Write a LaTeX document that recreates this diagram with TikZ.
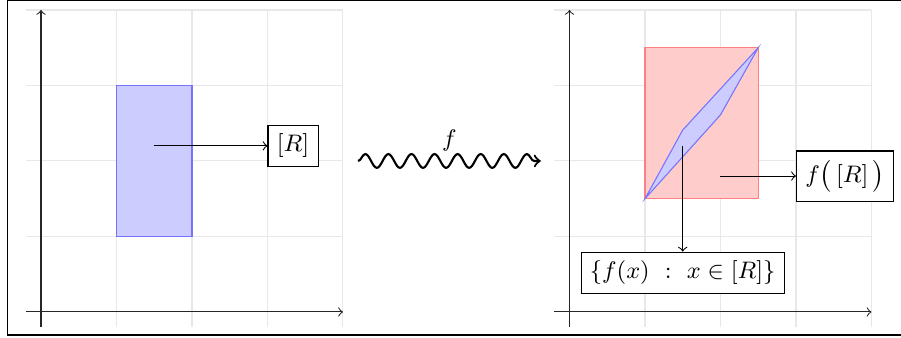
\documentclass[tikz,border=0pt]{standalone}
\usetikzlibrary{decorations.pathmorphing}
\tikzset{
  gridline/.style={gray!18, line width=0.4pt},
  axisline/.style={->, black!85},
  labelfont/.style={font=\fontsize{9.2}{11}\selectfont},
  labelbox/.style={draw, fill=white, inner sep=3.33pt, labelfont},
  mapsarrow/.style={->},
  wavearrow/.style={->, thick, decorate, decoration={snake, amplitude=2.6pt, segment length=8.7pt, post length=0pt}},
}
\begin{document}
\begin{tikzpicture}
\useasboundingbox (-0.543,-0.344) rectangle (11.391,4.132);
% outer frame (cut on the right)
\draw[line width=0.55pt] (-0.444,-0.305) rectangle (11.8,4.128);
% left panel
\draw[gridline] (-0.2,-0.2) grid (4,4);
\coordinate (lxs) at (-0.2,0); \coordinate (lxe) at (4,0);
\coordinate (lys) at (0,-0.2); \coordinate (lye) at (0,4);
\draw[axisline] (lxs) -- (lxe);
\draw[axisline] (lys) -- (lye);
\fill[blue!20] (1,1) rectangle (2,3);
\draw[blue!55] (1,1) rectangle (2,3);
\coordinate (lsrc) at (1.5,2.2);
\node[labelbox, anchor=west] (R) at (3,2.2) {$[R]$};
\draw[mapsarrow] (lsrc) -- (R);
% wavy map
\coordinate (ws) at (4.2,2.0); \coordinate (we) at (6.62,2.0);
\draw[wavearrow] (ws) -- (we);
\node[anchor=south, inner sep=3.33pt, labelfont] (flab) at (5.41,2.0) {$f$};
% right panel
\draw[gridline] (6.8,-0.2) grid (11,4);
\coordinate (rxs) at (6.8,0); \coordinate (rxe) at (11,0);
\coordinate (rys) at (7,-0.2); \coordinate (rye) at (7,4);
\draw[axisline] (rxs) -- (rxe);
\draw[axisline] (rys) -- (rye);
\fill[red!20] (8,1.5) rectangle (9.5,3.5);
\draw[red!50] (8,1.5) rectangle (9.5,3.5);
\filldraw[fill=blue!20, draw=blue!55] (8,1.5) -- (8.5,2.41) -- (9.5,3.5) -- (9,2.61) -- cycle;
\coordinate (psrc) at (8.5,2.2);
\coordinate (qsrc) at (9,1.8);
\node[labelbox, anchor=north] (S) at (8.5,0.8) {$\{f(x)\ :\ x\in[R]\}$};
\node[labelbox, anchor=west] (fR) at (10,1.8) {$f\bigl(\,[R]\,\bigr)$};
\draw[mapsarrow] (psrc) -- (S);
\draw[mapsarrow] (qsrc) -- (fR);
\end{tikzpicture}
\end{document}
